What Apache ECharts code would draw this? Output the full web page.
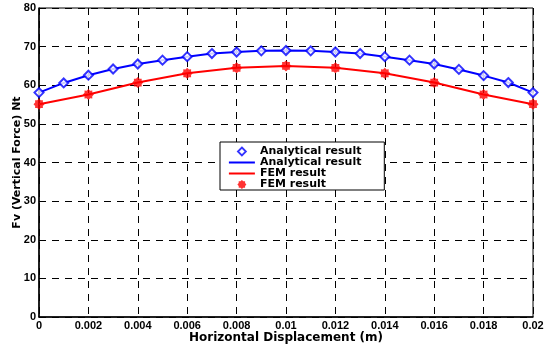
<!DOCTYPE html>
<html>
<head>
<meta charset="utf-8">
<script src="https://cdn.jsdelivr.net/npm/echarts@6/dist/echarts.min.js"></script>
<style>
    html, body { margin: 0; padding: 0; background: #fff; }
    #chart { width: 549px; height: 349px; }
</style>
</head>
<body>
<div id="chart"></div>
<script>
// horizontal displacement (m)
var displacement = [0, 0.001, 0.002, 0.003, 0.004, 0.005, 0.006, 0.007, 0.008, 0.009, 0.01,
    0.011, 0.012, 0.013, 0.014, 0.015, 0.016, 0.017, 0.018, 0.019, 0.02];
// analytical vertical force
var analytical = [58.1, 60.6, 62.6, 64.2, 65.5, 66.5, 67.4, 68.2, 68.6, 68.9, 69.0,
    68.9, 68.6, 68.2, 67.4, 66.5, 65.5, 64.1, 62.5, 60.7, 58.1];
// FEM points (every 0.002)
var femX = [0, 0.002, 0.004, 0.006, 0.008, 0.01, 0.012, 0.014, 0.016, 0.018, 0.02];
var femY = [55.1, 57.6, 60.7, 63.1, 64.5, 65.0, 64.5, 63.1, 60.7, 57.6, 55.1];

var starPath = "path://M0,-10 L3.2,-7 L7.1,-7.1 L7,-3.2 L10,0 L7,3.2 L7.1,7.1 L3.2,7 L0,10 L-3.2,7 L-7.1,7.1 L-7,3.2 L-10,0 L-7,-3.2 L-7.1,-7.1 L-3.2,-7 Z";
// legend icons: the moveTo corners keep every box at 26x9 so the shapes are not stretched
var lineIcon = "path://M0,0 M0,3.5 L26,3.5 L26,5.5 L0,5.5 Z M26,9";
var diamondIcon = "path://M0,0 M13,0.5 L17,4.5 L13,8.5 L9,4.5 Z M26,9";
var starIcon = "path://M0,0 M13,0 L14.4,1.35 L16.2,1.3 L16.2,3.1 L17.5,4.5 L16.2,5.9 L16.2,7.7 L14.4,7.65 L13,9 L11.6,7.65 L9.8,7.7 L9.8,5.9 L8.5,4.5 L9.8,3.1 L9.8,1.3 L11.6,1.35 Z M26,9";

var pairs = function(xs, ys) {
    var out = [];
    for (var i = 0; i < xs.length; i++) out.push([xs[i], ys[i]]);
    return out;
};

var tickFont = { color: "#000", fontWeight: "bold", fontSize: 11, fontFamily: "Liberation Sans" };
var nameFont = { color: "#000", fontWeight: "bold", fontFamily: "DejaVu Sans" };

var chart = echarts.init(document.getElementById("chart"));
chart.setOption({
    animation: false,
    grid: {
        left: 39, right: 16, top: 8, bottom: 32,
        containLabel: false,
        outerBoundsMode: "none",
        show: true, borderColor: "#000", borderWidth: 1
    },
    legend: {
        orient: "vertical",
        left: 220,
        top: 142,
        itemGap: 0,
        itemWidth: 26,
        itemHeight: 9,
        padding: [4, 19, 0, 8],
        backgroundColor: "#fff",
        borderColor: "#000",
        borderWidth: 1,
        borderRadius: 0,
        textStyle: { color: "#000", fontWeight: "bold", fontSize: 11, lineHeight: 11, fontFamily: "DejaVu Sans" },
        data: [
            { name: "Analytical result", icon: diamondIcon,
              itemStyle: { color: "#fff", borderColor: "#0000ff", borderWidth: 1.8 } },
            { name: "Analytical result ", icon: lineIcon },
            { name: "FEM result", icon: lineIcon },
            { name: "FEM result ", icon: starIcon }
        ]
    },
    xAxis: {
        type: "value",
        min: 0,
        max: 0.02,
        interval: 0.002,
        name: "Horizontal Displacement (m)",
        nameLocation: "middle",
        nameGap: 15,
        nameMoveOverlap: false,
        nameTextStyle: Object.assign({ fontSize: 12 }, nameFont),
        axisLine: { lineStyle: { color: "#000", width: 1.5 } },
        axisTick: { show: false },
        axisLabel: Object.assign({ margin: 3 }, tickFont),
        splitLine: { lineStyle: { color: "#000", type: [7, 6] } }
    },
    yAxis: {
        type: "value",
        min: 0,
        max: 80,
        interval: 10,
        name: "Fv (Vertical Force) Nt",
        nameLocation: "middle",
        nameGap: 16,
        nameMoveOverlap: false,
        nameTextStyle: Object.assign({ fontSize: 11 }, nameFont),
        axisLine: { lineStyle: { color: "#000", width: 1.5 } },
        axisTick: { show: false },
        axisLabel: Object.assign({ margin: 3 }, tickFont),
        splitLine: { lineStyle: { color: "#000", type: [7, 6] } }
    },
    series: [
        {
            name: "Analytical result",
            type: "scatter",
            symbol: "emptyDiamond",
            symbolSize: 9,
            z: 4,
            itemStyle: { color: "#0000ff", borderColor: "#0000ff", borderWidth: 1.8 },
            data: pairs(displacement, analytical)
        },
        {
            name: "Analytical result ",
            type: "line",
            symbol: "none",
            z: 3,
            lineStyle: { color: "#0000ff", width: 2 },
            itemStyle: { color: "#0000ff" },
            data: pairs(displacement, analytical)
        },
        {
            name: "FEM result",
            type: "line",
            symbol: "none",
            z: 3,
            lineStyle: { color: "#ff0000", width: 2 },
            itemStyle: { color: "#ff0000" },
            data: pairs(femX, femY)
        },
        {
            name: "FEM result ",
            type: "scatter",
            symbol: starPath,
            symbolSize: 11,
            z: 4,
            itemStyle: { color: "#ff0000" },
            data: pairs(femX, femY)
        }
    ]
});
</script>
</body>
</html>
